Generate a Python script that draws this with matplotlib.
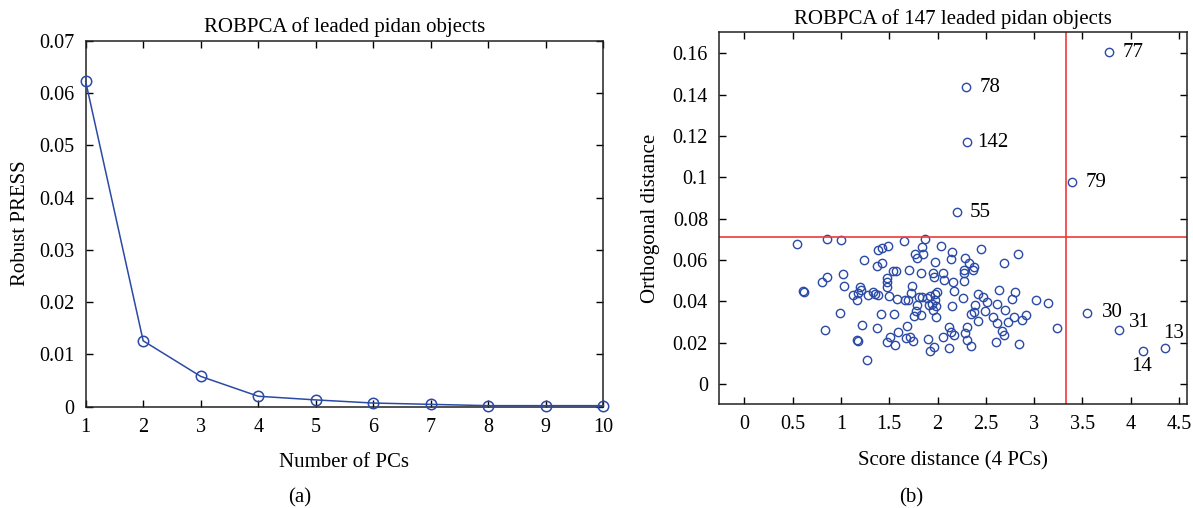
import matplotlib
matplotlib.use("Agg")
import matplotlib.pyplot as plt

# 글꼴: 원본은 세리프 계열
plt.rcParams['font.family'] = ['Liberation Serif', 'DejaVu Serif']
plt.rcParams['font.size'] = 14

# ---------------------------- (a) Robust PRESS ----------------------------
n_pcs = [1, 2, 3, 4, 5, 6, 7, 8, 9, 10]
robust_press = [0.0622, 0.0126, 0.0058, 0.0020, 0.0013, 0.0007, 0.00045, 0.0002, 0.0002, 0.0002]

# ---------------------------- (b) 거리 산점도 ----------------------------
score_dist = [
    0.542, 0.859, 0.801, 0.853, 0.608, 0.613, 0.832,
    1.001, 1.236, 1.387, 1.429, 1.484, 1.653, 1.371, 1.429, 1.025, 1.035, 1.536, 1.567, 1.708,
    1.474, 1.480, 1.474, 1.201, 1.208, 1.180, 1.128, 1.164, 1.277, 1.335, 1.353, 1.381, 1.501,
    1.578, 1.664, 1.692, 1.723, 1.739,
    0.988, 1.415, 1.553, 1.215, 1.371, 1.687,
    1.164, 1.177, 1.511, 1.588, 1.474, 1.560, 1.671, 1.715, 1.749, 1.270,
    1.867, 1.840, 2.039, 2.150, 2.137, 2.453,
    1.764, 1.788, 1.847,
    1.971, 2.282, 2.323, 2.375, 2.367, 2.271, 2.277, 1.832, 1.950, 1.961, 2.057, 2.064, 2.157, 2.271,
    2.168, 2.261, 2.150, 1.805, 1.840, 1.891, 1.925, 1.977, 1.995, 1.977, 1.943, 1.912, 1.984,
    1.788, 1.777, 1.757, 1.832, 1.950, 1.984, 2.419, 2.471, 2.512, 2.391, 2.375, 2.350, 2.495,
    2.571, 2.616, 2.640, 2.419, 2.616,
    2.116, 2.143, 2.168, 2.305, 2.282, 2.305, 2.350, 2.054, 1.899, 1.961, 1.925, 2.122, 2.606,
    2.836, 2.688, 2.799, 2.768, 3.017, 3.147, 2.699, 2.792, 2.733, 2.913, 2.878, 2.665, 2.688,
    2.844, 3.240,
]
orth_dist = [
    0.0678, 0.0702, 0.0495, 0.0516, 0.0448, 0.0443, 0.0260,
    0.0696, 0.0602, 0.0650, 0.0657, 0.0668, 0.0692, 0.0570, 0.0584, 0.0532, 0.0476, 0.0547, 0.0548, 0.0552,
    0.0512, 0.0492, 0.0471, 0.0471, 0.0455, 0.0439, 0.0431, 0.0407, 0.0431, 0.0444, 0.0436, 0.0431, 0.0426,
    0.0411, 0.0407, 0.0407, 0.0439, 0.0474,
    0.0344, 0.0337, 0.0339, 0.0287, 0.0270, 0.0281,
    0.0213, 0.0208, 0.0226, 0.0250, 0.0202, 0.0189, 0.0221, 0.0227, 0.0208, 0.0116,
    0.0702, 0.0662, 0.0669, 0.0637, 0.0605, 0.0655,
    0.0628, 0.0608, 0.0628,
    0.0592, 0.0608, 0.0587, 0.0568, 0.0552, 0.0552, 0.0536, 0.0536, 0.0536, 0.0519, 0.0539, 0.0503, 0.0495, 0.0499,
    0.0450, 0.0418, 0.0378, 0.0423, 0.0423, 0.0415, 0.0427, 0.0434, 0.0447, 0.0407, 0.0386, 0.0382, 0.0378,
    0.0382, 0.0353, 0.0329, 0.0334, 0.0358, 0.0323, 0.0434, 0.0423, 0.0395, 0.0382, 0.0347, 0.0337, 0.0353,
    0.0326, 0.0387, 0.0455, 0.0305, 0.0294,
    0.0277, 0.0250, 0.0237, 0.0277, 0.0245, 0.0213, 0.0185, 0.0229, 0.0216, 0.0181, 0.0160, 0.0176, 0.0205,
    0.0628, 0.0584, 0.0444, 0.0411, 0.0407, 0.0391, 0.0358, 0.0326, 0.0302, 0.0334, 0.0310, 0.0257, 0.0237,
    0.0192, 0.0270,
]

# 번호가 붙은 이상치
flag_names = ['77', '78', '142', '79', '55', '30', '31', '13', '14']
flag_sd = [3.778, 2.298, 2.308, 3.389, 2.198, 3.545, 3.882, 4.355, 4.124]
flag_od = [0.1605, 0.1437, 0.1170, 0.0976, 0.0832, 0.0344, 0.0260, 0.0176, 0.0160]

sd_cutoff = 3.33
od_cutoff = 0.0713

blue = '#2b4aa6'
red = '#f03a3a'

fig = plt.figure(figsize=(11.93, 5.08), dpi=100)


def style_axes(ax):
    ax.tick_params(direction='in', top=True, right=True, length=5, width=1, pad=8, labelsize=14.5)
    for s in ax.spines.values():
        s.set_linewidth(1.1)
        s.set_color('#222222')


# ---------------------------- (a) ----------------------------
ax1 = fig.add_axes([0.0718, 0.1994, 0.4339, 0.7206])
ax1.plot(n_pcs, robust_press, color=blue, lw=1.1, marker='o', markersize=7.5,
         markerfacecolor='none', markeredgecolor=blue, markeredgewidth=1.1, clip_on=False, zorder=3)
ax1.set_xlim(1, 10)
ax1.set_ylim(0, 0.07)
ax1.set_xticks(n_pcs)
yt = [0, 0.01, 0.02, 0.03, 0.04, 0.05, 0.06, 0.07]
ax1.set_yticks(yt)
ax1.set_yticklabels(['%g' % v for v in yt])
ax1.set_xlabel('Number of PCs', fontsize=15, labelpad=12)
ax1.set_ylabel('Robust PRESS', fontsize=15, labelpad=7)
ax1.set_title('ROBPCA of leaded pidan objects', fontsize=15, pad=6)
style_axes(ax1)

# ---------------------------- (b) ----------------------------
ax2 = fig.add_axes([0.6027, 0.2047, 0.3925, 0.7317])
ax2.plot(score_dist, orth_dist, linestyle='none', marker='o', markersize=6,
         markerfacecolor='none', markeredgecolor=blue, markeredgewidth=1.0)
ax2.plot(flag_sd, flag_od, linestyle='none', marker='o', markersize=6,
         markerfacecolor='none', markeredgecolor=blue, markeredgewidth=1.0)
ax2.axvline(sd_cutoff, color=red, lw=1.2)
ax2.axhline(od_cutoff, color=red, lw=1.2)

# 번호 라벨 위치 (픽셀 오프셋)
offsets = {'77': (13, 0, 'left'), '78': (13, 0, 'left'), '142': (10, 0, 'left'),
           '79': (14, 0, 'left'), '55': (13, 0, 'left'), '30': (15, 0, 'left'),
           '31': (10, 8, 'left'), '13': (-2, 14, 'left'), '14': (-1, -16, 'center')}
for name, x, y in zip(flag_names, flag_sd, flag_od):
    dx, dy, ha = offsets[name]
    ax2.annotate(name, (x, y), xytext=(dx, dy), textcoords='offset pixels',
                 ha=ha, va='center', fontsize=15)

ax2.set_xlim(-0.262, 4.586)
ax2.set_ylim(-0.0097, 0.1702)
xt = [0, 0.5, 1, 1.5, 2, 2.5, 3, 3.5, 4, 4.5]
ax2.set_xticks(xt)
ax2.set_xticklabels(['%g' % v for v in xt])
yt2 = [0, 0.02, 0.04, 0.06, 0.08, 0.1, 0.12, 0.14, 0.16]
ax2.set_yticks(yt2)
ax2.set_yticklabels(['%g' % v for v in yt2])
ax2.set_xlabel('Score distance (4 PCs)', fontsize=15, labelpad=12)
ax2.set_ylabel('Orthogonal distance', fontsize=15, labelpad=9)
ax2.set_title('ROBPCA of 147 leaded pidan objects', fontsize=15, pad=6)
style_axes(ax2)

# 부분 그림 표시
fig.text(0.2515, 0.02, '(a)', ha='center', va='center', fontsize=15)
fig.text(0.7634, 0.02, '(b)', ha='center', va='center', fontsize=15)

plt.savefig('out.png', dpi=100)
